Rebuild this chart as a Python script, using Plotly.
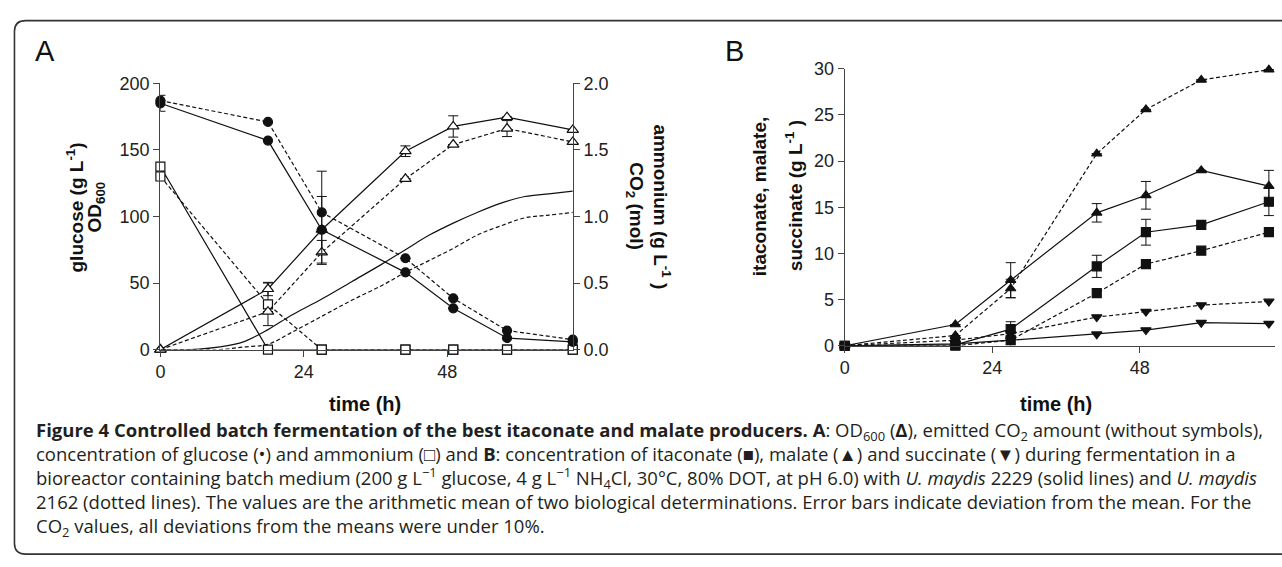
import plotly.graph_objects as go

W, H = 1282, 567

# ---------------- data ----------------
time_h = [0, 18, 27, 41, 49, 58, 69]

# Panel A
glucose_2229 = [185, 157, 90, 58, 31, 8.7, 5.8]
glucose_2229_err = [6, 0, 0, 0, 0, 0, 0]
glucose_2162 = [187, 171, 103, 68.6, 38.5, 14.3, 7.5]
glucose_2162_err = [0, 0, 31, 0, 0, 0, 0]
od600_2229 = [0, 45.5, 90, 149, 167.6, 174.6, 165]
od600_2229_err = [0, 5, 25, 4, 8, 0, 0]
od600_2162 = [0, 28.5, 73, 128.3, 154, 166, 156]
od600_2162_err = [0, 0, 9, 0, 0, 6, 0]
ammonium_2229 = [137.5, 0, 0, 0, 0, 0, 0]
ammonium_2162 = [130, 34, 0, 0, 0, 0, 0]
ammonium_2162_err = [0, 16, 0, 0, 0, 0, 0]

co2_time = [0, 5, 10, 14, 18, 22, 27, 32, 37, 41, 45, 49, 53, 57, 61, 65, 69]
co2_2229 = [0, 0, 0.02, 0.06, 0.15, 0.26, 0.38, 0.51, 0.64, 0.75, 0.86, 0.95, 1.03, 1.10, 1.15, 1.17, 1.19]
co2_2162 = [0, 0, 0, 0.02, 0.04, 0.13, 0.25, 0.37, 0.48, 0.58, 0.67, 0.76, 0.86, 0.93, 0.99, 1.01, 1.03]

# Panel B
itaconate_2229 = [0, 0.1, 1.8, 8.6, 12.3, 13.1, 15.6]
itaconate_2229_err = [0, 0, 0.8, 1.2, 1.4, 0, 1.5]
itaconate_2162 = [0, 0, 0.6, 5.7, 8.85, 10.3, 12.3]
malate_2229 = [0, 2.3, 7.1, 14.4, 16.3, 19.0, 17.3]
malate_2229_err = [0, 0, 1.9, 1.0, 1.5, 0, 1.7]
malate_2162 = [0, 1.1, 6.2, 20.8, 25.6, 28.8, 29.9]
malate_2162_err = [0, 0, 1.0, 0, 0, 0, 0]
succinate_2229 = [0, 0.2, 0.6, 1.25, 1.7, 2.5, 2.4]
succinate_2162 = [0, 0.6, 1.3, 3.1, 3.7, 4.4, 4.8]

x_ticks = [0, 24, 48]
yA_ticks = [0, 50, 100, 150, 200]
yA2_ticks = [0, 0.5, 1.0, 1.5, 2.0]
yB_ticks = [0, 5, 10, 15, 20, 25, 30]

caption_lines = [
    "<b>Figure 4 Controlled batch fermentation of the best itaconate and malate producers. A</b>: OD<sub>600</sub> (<b>Δ</b>), emitted CO<sub>2</sub> amount (without symbols),",
    "concentration of glucose (•) and ammonium (□) and <b>B</b>: concentration of itaconate (■), malate (▲) and succinate (▼) during fermentation in a",
    "bioreactor containing batch medium (200 g L<sup>−1</sup> glucose, 4 g L<sup>−1</sup> NH<sub>4</sub>Cl, 30°C, 80% DOT, at pH 6.0) with <i>U. maydis</i> 2229 (solid lines) and <i>U. maydis</i>",
    "2162 (dotted lines). The values are the arithmetic mean of two biological determinations. Error bars indicate deviation from the mean. For the",
    "CO<sub>2</sub> values, all deviations from the means were under 10%.",
]

# ---------------- helpers ----------------
def px(x):
    return x / W

def py(y):
    return 1 - y / H

BLACK = "#111111"
AXC = "#444444"
DASH = "4px,2.5px"
FONT = "Liberation Sans, Arial, sans-serif"

fig = go.Figure()


def err(arr):
    return dict(type="data", array=arr, visible=True, color=BLACK, thickness=1, width=5)


def add(x, y, xa, ya, symbol=None, dash="solid", size=9, e=None, filled=True, shape="linear"):
    mode = "lines+markers" if symbol else "lines"
    marker = None
    if symbol:
        marker = dict(symbol=symbol, size=size,
                      color=BLACK if filled else "white",
                      line=dict(color=BLACK, width=1.2))
    fig.add_trace(go.Scatter(
        x=x, y=y, xaxis=xa, yaxis=ya, mode=mode,
        line=dict(color=BLACK, width=1.2, dash=dash, shape=shape),
        marker=marker, error_y=err(e) if e else None,
        cliponaxis=False, showlegend=False, hoverinfo="skip"))


# Panel A
add(co2_time, co2_2229, "x", "y2", shape="spline")
add(co2_time, co2_2162, "x", "y2", dash=DASH, shape="spline")
add(time_h, ammonium_2229, "x", "y", symbol="square", filled=False, size=9)
add(time_h, ammonium_2162, "x", "y", symbol="square", filled=False, size=9, dash=DASH, e=ammonium_2162_err)
add(time_h, od600_2229, "x", "y", symbol="triangle-up", filled=False, size=10, e=od600_2229_err)
add(time_h, od600_2162, "x", "y", symbol="triangle-up", filled=False, size=10, dash=DASH, e=od600_2162_err)
add(time_h, glucose_2229, "x", "y", symbol="circle", size=9, e=glucose_2229_err)
add(time_h, glucose_2162, "x", "y", symbol="circle", size=9, dash=DASH, e=glucose_2162_err)

# Panel B
add(time_h, succinate_2229, "x2", "y3", symbol="triangle-down", size=9)
add(time_h, succinate_2162, "x2", "y3", symbol="triangle-down", size=9, dash=DASH)
add(time_h, itaconate_2229, "x2", "y3", symbol="square", size=9, e=itaconate_2229_err)
add(time_h, itaconate_2162, "x2", "y3", symbol="square", size=9, dash=DASH)
add(time_h, malate_2229, "x2", "y3", symbol="triangle-up", size=9, e=malate_2229_err)
add(time_h, malate_2162, "x2", "y3", symbol="triangle-up", size=9, dash=DASH, e=malate_2162_err)

tickfont = dict(family=FONT, size=18, color="#222")
common = dict(showgrid=False, zeroline=False, showline=True, linecolor=AXC, linewidth=1.3,
              ticks="outside", ticklen=6, tickwidth=1.3, tickcolor=AXC, tickfont=tickfont)

fig.update_layout(
    width=W, height=H, margin=dict(l=0, r=0, t=0, b=0),
    paper_bgcolor="white", plot_bgcolor="rgba(0,0,0,0)",
    xaxis=dict(domain=[px(156), px(570)], range=[0, 69], anchor="y", tickvals=x_ticks, **common),
    yaxis=dict(domain=[py(352), py(76)], range=[0, 200], anchor="x", tickvals=yA_ticks, **common),
    yaxis2=dict(domain=[py(352), py(76)], range=[0, 2], overlaying="y", side="right", anchor="x",
                tickvals=yA2_ticks, tickformat=".1f", **common),
    xaxis2=dict(domain=[px(843), px(1275)], range=[0, 70], anchor="y3", tickvals=x_ticks, **common),
    yaxis3=dict(domain=[py(348), py(61)], range=[0, 30], anchor="x2", tickvals=yB_ticks, **common),
)

ann = []
lab = dict(family=FONT, size=19, color="#111")


def A(text, x, y, angle=0, font=lab, xanchor="center", yanchor="middle", align="center"):
    ann.append(dict(text=text, x=px(x), y=py(y), xref="paper", yref="paper", showarrow=False,
                    textangle=angle, font=font, xanchor=xanchor, yanchor=yanchor, align=align))


A("A", 40, 43, font=dict(family=FONT, size=29, color="#111"))
A("B", 732, 42, font=dict(family=FONT, size=29, color="#111"))
A("<b>time (h)</b>", 361, 408, font=dict(family=FONT, size=20, color="#111"))
A("<b>time (h)</b>", 1055, 408, font=dict(family=FONT, size=20, color="#111"))
A("<b>glucose (g L<sup>-1</sup>)</b>", 70, 205, angle=-90)
A("<b>OD<sub>600</sub></b>", 91, 204, angle=-90)
A("<b>ammonium (g L<sup>-1</sup> )</b>", 660, 204, angle=90)
A("<b>CO<sub>2</sub> (mol)</b>", 633, 203, angle=90)
A("<b>itaconate, malate,</b>", 757, 194, angle=-90)
A("<b>succinate (g L<sup>-1</sup> )</b>", 792, 192, angle=-90)

cap_font = dict(family="Open Sans, sans-serif", size=18.5, color="#231f20")
A("<br>".join(caption_lines), 29, 486, font=cap_font, xanchor="left", align="left")

fig.update_layout(annotations=ann)

# rounded frame
path = (f"M {px(1300)},{py(11)} L {px(21)},{py(11)} Q {px(9.5)},{py(11)} {px(9.5)},{py(22)} "
        f"L {px(9.5)},{py(553)} Q {px(9.5)},{py(564)} {px(21)},{py(564)} L {px(1300)},{py(564)}")
fig.add_shape(type="path", path=path, xref="paper", yref="paper",
              line=dict(color="#333", width=1.6))

fig.write_html("out.html", config={"displayModeBar": False},
               post_script="document.documentElement.style.overflow='hidden';"
                           "document.body.style.margin='0';document.body.style.overflow='hidden';")
